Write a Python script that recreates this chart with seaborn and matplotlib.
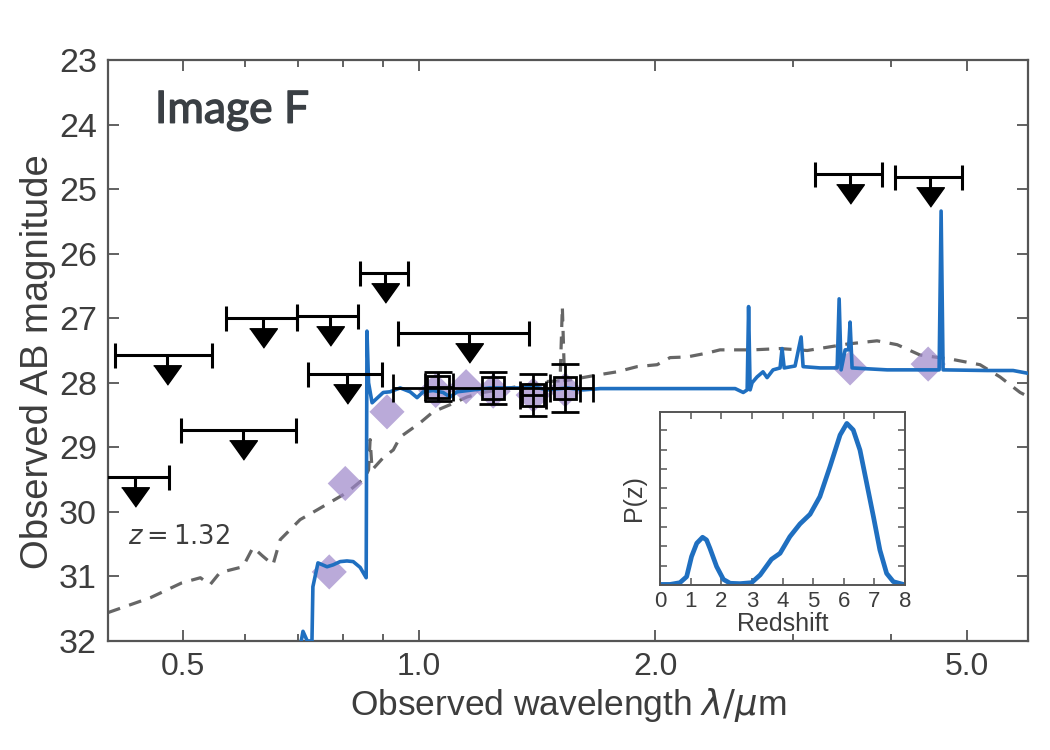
import numpy as np
import pandas as pd
import matplotlib
matplotlib.use("Agg")
import matplotlib.pyplot as plt
import matplotlib.patheffects as pe
import seaborn as sns
from matplotlib.ticker import FixedLocator, FormatStrFormatter, NullFormatter

# ---------------- data ----------------
# best-fit SED (blue), wavelength in micron and AB magnitude
sed_wl = [0.705, 0.711, 0.720, 0.730, 0.732, 0.743, 0.763, 0.777, 0.793, 0.809,
          0.824, 0.841, 0.856, 0.858, 0.862, 0.871, 0.900, 0.918, 0.946, 0.974,
          0.994, 1.012, 1.042, 1.073, 1.095, 1.118, 1.172, 1.232, 1.280, 1.345,
          1.398, 1.457, 1.545, 1.619, 1.702, 1.971, 2.283, 2.530, 2.591, 2.621,
          2.632, 2.644, 2.659, 2.698, 2.746, 2.779, 2.828, 2.887, 2.904, 2.922,
          3.017, 3.071, 3.089, 3.247, 3.414, 3.434, 3.454, 3.495, 3.530, 3.546,
          3.567, 3.954, 4.355, 4.606, 4.633, 4.660, 5.304, 5.724, 6.020]
sed_mag = [32.10, 31.85, 32.00, 32.00, 31.16, 30.79, 30.85, 30.82, 30.77, 30.76,
           30.77, 30.86, 31.02, 27.20, 28.00, 28.31, 28.15, 28.14, 28.08, 28.14,
           28.23, 28.14, 28.12, 28.15, 28.22, 28.14, 28.11, 28.08, 28.08, 28.08,
           28.06, 28.11, 28.08, 28.11, 28.09, 28.09, 28.09, 28.09, 28.15, 28.11,
           26.82, 28.11, 28.00, 27.91, 27.83, 27.92, 27.80, 27.77, 27.47, 27.77,
           27.74, 27.29, 27.75, 27.77, 27.77, 26.70, 27.80, 27.49, 27.49, 27.06,
           27.77, 27.80, 27.80, 27.80, 25.34, 27.80, 27.81, 27.81, 27.86]

# low-redshift alternative template (grey dashed)
alt_wl = [0.401, 0.454, 0.498, 0.526, 0.541, 0.557, 0.596, 0.614, 0.631, 0.651,
          0.665, 0.705, 0.741, 0.809, 0.853, 0.862, 0.866, 0.871, 0.900, 0.927,
          0.946, 1.003, 1.042, 1.095, 1.151, 1.207, 1.334, 1.457, 1.513, 1.523,
          1.533, 1.687, 1.789, 1.897, 2.012, 2.090, 2.197, 2.330, 2.420, 2.667,
          2.887, 3.126, 3.516, 3.838, 4.072, 4.355, 4.798, 5.194, 5.509, 5.843,
          6.020]
alt_mag = [31.56, 31.33, 31.10, 31.02, 31.13, 30.94, 30.85, 30.55, 30.68, 30.82,
           30.43, 30.12, 29.97, 29.70, 29.47, 29.35, 28.88, 29.35, 29.16, 29.04,
           28.84, 28.62, 28.45, 28.34, 28.22, 28.15, 28.06, 27.98, 27.97, 26.82,
           27.97, 27.88, 27.83, 27.75, 27.72, 27.61, 27.60, 27.54, 27.49, 27.49,
           27.47, 27.50, 27.40, 27.35, 27.41, 27.57, 27.64, 27.72, 27.91, 28.15,
           28.23]

# model photometry (purple diamonds)
mod_wl = [0.768, 0.805, 0.910, 1.050, 1.148, 1.243, 1.398, 1.536, 3.546, 4.460]
mod_mag = [30.93, 29.56, 28.45, 28.12, 28.06, 28.13, 28.19, 28.11, 27.77, 27.71]

# detections (open squares)
det_wl = [1.057, 1.243, 1.398, 1.536]
det_mag = [28.06, 28.08, 28.19, 28.08]
det_err = [0.22, 0.25, 0.33, 0.37]
det_lo = [1.018, 0.926, 1.345, 1.469]
det_hi = [1.105, 1.667, 1.452, 1.604]

# upper limits
ul_wl = [0.477, 0.632, 0.770, 0.905, 1.158, 0.809, 0.596, 0.434, 3.546, 4.490]
ul_lo = [0.409, 0.567, 0.699, 0.841, 0.940, 0.722, 0.497, 0.393, 3.200, 4.050]
ul_hi = [0.544, 0.699, 0.836, 0.968, 1.381, 0.897, 0.697, 0.479, 3.896, 4.930]
ul_mag = [27.57, 26.99, 26.96, 26.30, 27.23, 27.86, 28.73, 29.46, 24.76, 24.81]

# P(z) inset
pz_z = [0.00, 0.33, 0.65, 0.87, 1.03, 1.20, 1.39, 1.52, 1.63, 1.85, 2.07, 2.29,
        2.61, 2.99, 3.27, 3.64, 3.92, 4.24, 4.57, 4.90, 5.22, 5.55, 5.88, 6.10,
        6.31, 6.53, 6.75, 6.97, 7.18, 7.40, 7.62, 7.95]
pz_p = [0.03, 0.03, 0.12, 0.43, 1.47, 2.16, 2.47, 2.33, 1.90, 0.95, 0.29, 0.09,
        0.07, 0.12, 0.52, 1.33, 1.64, 2.50, 3.16, 3.66, 4.57, 6.12, 7.76, 8.36,
        8.02, 6.98, 5.26, 3.53, 1.81, 0.60, 0.17, 0.03]

x_ticks = [0.5, 1.0, 2.0, 5.0]
y_ticks = list(range(23, 33))

# ---------------- style ----------------
sns.set_theme(style="ticks")
plt.rcParams["font.family"] = ["Liberation Sans", "DejaVu Sans"]
plt.rcParams["mathtext.fontset"] = "dejavusans"
TXT = "#3d3d3d"
SPN = "#555555"
BLUE = "#1f6fc0"
PURP = "#9d86c9"

fig = plt.figure(figsize=(10.5, 7.5), dpi=100)
ax = fig.add_axes([108 / 1050, 1 - 641 / 750, 920 / 1050, 581 / 750])

sed = pd.DataFrame({"wl": sed_wl, "mag": sed_mag})
alt = pd.DataFrame({"wl": alt_wl, "mag": alt_mag})
mod = pd.DataFrame({"wl": mod_wl, "mag": mod_mag})

sns.lineplot(data=alt, x="wl", y="mag", ax=ax, estimator=None, sort=False,
             color="#666666", lw=2.3, linestyle=(0, (4, 3)), zorder=2)
sns.scatterplot(data=mod, x="wl", y="mag", ax=ax, marker="D", s=320,
                color=PURP, alpha=0.7, edgecolor="none", zorder=3)
sns.lineplot(data=sed, x="wl", y="mag", ax=ax, estimator=None, sort=False,
             color=BLUE, lw=2.6, zorder=4)

# detections
det_wl_a = np.array(det_wl)
ax.errorbar(det_wl, det_mag, yerr=det_err,
            xerr=[det_wl_a - np.array(det_lo), np.array(det_hi) - det_wl_a],
            fmt="s", ms=16, mfc="none", mec="black", mew=2.0,
            ecolor="black", elinewidth=2.0, capsize=10, capthick=2.0, zorder=5)

# upper limits
ul_wl_a = np.array(ul_wl)
ul_mag_a = np.array(ul_mag)
ax.errorbar(ul_wl, ul_mag,
            xerr=[ul_wl_a - np.array(ul_lo), np.array(ul_hi) - ul_wl_a],
            fmt="none", ecolor="black", elinewidth=2.2, capsize=9, capthick=2.2,
            zorder=6)
ax.vlines(ul_wl, ul_mag_a, ul_mag_a + 0.2, color="black", lw=2.2, zorder=6)
tri = [(-1.0, 0.7), (1.0, 0.7), (0.0, -0.7)]
ax.plot(ul_wl, ul_mag_a + 0.31, linestyle="none", marker=tri, ms=20,
        color="black", zorder=6)

ax.set_xscale("log")
ax.set_xlim(0.401, 5.98)
ax.set_ylim(32, 23)
ax.xaxis.set_major_locator(FixedLocator(x_ticks))
ax.xaxis.set_major_formatter(FormatStrFormatter("%.1f"))
ax.xaxis.set_minor_formatter(NullFormatter())
ax.set_yticks(y_ticks)
ax.tick_params(which="both", direction="in", top=True, right=True,
               colors=SPN, labelcolor=TXT, width=1.3)
ax.tick_params(axis="y", which="major", length=8, pad=8, labelsize=24.5)
ax.tick_params(axis="x", which="major", length=8, pad=8, labelsize=23)
ax.tick_params(which="minor", length=5)
for s in ax.spines.values():
    s.set_color(SPN)
    s.set_linewidth(1.6)
ax.set_xlabel(r"Observed wavelength $\lambda/\mu$m", fontsize=25.5, color=TXT)
ax.set_ylabel("Observed AB magnitude", fontsize=27.5, color=TXT)
ax.xaxis.set_label_coords(0.5, -0.078)
ax.yaxis.set_label_coords(-0.057, 0.48)

ax.text(0.051, 0.892, "Image F", transform=ax.transAxes, fontsize=32,
        family=["Lato", "DejaVu Sans"], color="#3a3f44", va="baseline",
        path_effects=[pe.withStroke(linewidth=1.0, foreground="#3a3f44")])
ax.text(0.022, 0.179, r"$z = 1.32$", transform=ax.transAxes, fontsize=18.5,
        color=TXT, va="center")

# inset
axin = fig.add_axes([660 / 1050, 1 - 585 / 750, 245 / 1050, 173 / 750])
pz = pd.DataFrame({"z": pz_z, "p": pz_p})
sns.lineplot(data=pz, x="z", y="p", ax=axin, estimator=None, sort=False,
             color=BLUE, lw=3.4)
axin.set_xlim(0, 8)
axin.set_ylim(0, 8.95)
axin.set_xticks(range(0, 9))
axin.set_yticks(range(1, 9))
axin.set_yticklabels([])
axin.tick_params(which="both", direction="in", top=True, right=True,
                 colors=SPN, labelcolor=TXT, labelsize=16, length=5, width=1.1,
                 pad=4)
for s in axin.spines.values():
    s.set_color(SPN)
    s.set_linewidth(1.4)
axin.set_xlabel("Redshift", fontsize=18, color=TXT, labelpad=0)
axin.set_ylabel("P(z)", fontsize=18, color=TXT, labelpad=6)

fig.savefig("out.png", dpi=100)
